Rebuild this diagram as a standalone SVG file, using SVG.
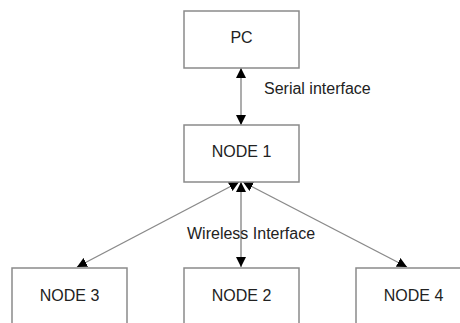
<svg xmlns="http://www.w3.org/2000/svg" width="460" height="323" viewBox="0 0 460 323">
  <style>
    .box { fill: #ffffff; stroke: #8a8a8a; stroke-width: 1.5; }
    .lbl { font-family: "Liberation Sans", Arial, sans-serif; font-size: 16px; fill: #222222; }
    .mid { text-anchor: middle; }
    .link { stroke: #8a8a8a; stroke-width: 1.4; fill: none; marker-start: url(#head); marker-end: url(#head); }
  </style>
  <defs>
    <marker id="head" viewBox="0 0 10 10" refX="10" refY="5" markerWidth="10" markerHeight="10" markerUnits="userSpaceOnUse" orient="auto-start-reverse">
      <path d="M0,0 L10,5 L0,10 Z" fill="#000000"/>
    </marker>
  </defs>
  <rect width="460" height="323" fill="#ffffff"/>

  <g id="connectors">
    <line class="link" x1="241" y1="68" x2="241" y2="125"/>
    <line class="link" x1="241" y1="182" x2="241" y2="267"/>
    <line class="link" x1="239" y1="182" x2="77" y2="267"/>
    <line class="link" x1="243" y1="182" x2="407" y2="267"/>
    <text class="lbl" x="264" y="94">Serial interface</text>
    <text class="lbl" x="187" y="239">Wireless Interface</text>
  </g>

  <g id="pc">
    <rect class="box" x="184" y="11" width="115" height="57"/>
    <text class="lbl mid" x="241.5" y="43">PC</text>
  </g>
  <g id="node1">
    <rect class="box" x="184" y="125" width="115" height="57"/>
    <text class="lbl mid" x="241.5" y="157">NODE 1</text>
  </g>
  <g id="node3">
    <rect class="box" x="12" y="268" width="115" height="70"/>
    <text class="lbl mid" x="69.5" y="301">NODE 3</text>
  </g>
  <g id="node2">
    <rect class="box" x="184" y="268" width="115" height="70"/>
    <text class="lbl mid" x="241.5" y="301">NODE 2</text>
  </g>
  <g id="node4">
    <rect class="box" x="356" y="268" width="115" height="70"/>
    <text class="lbl mid" x="413.5" y="301">NODE 4</text>
  </g>
</svg>
